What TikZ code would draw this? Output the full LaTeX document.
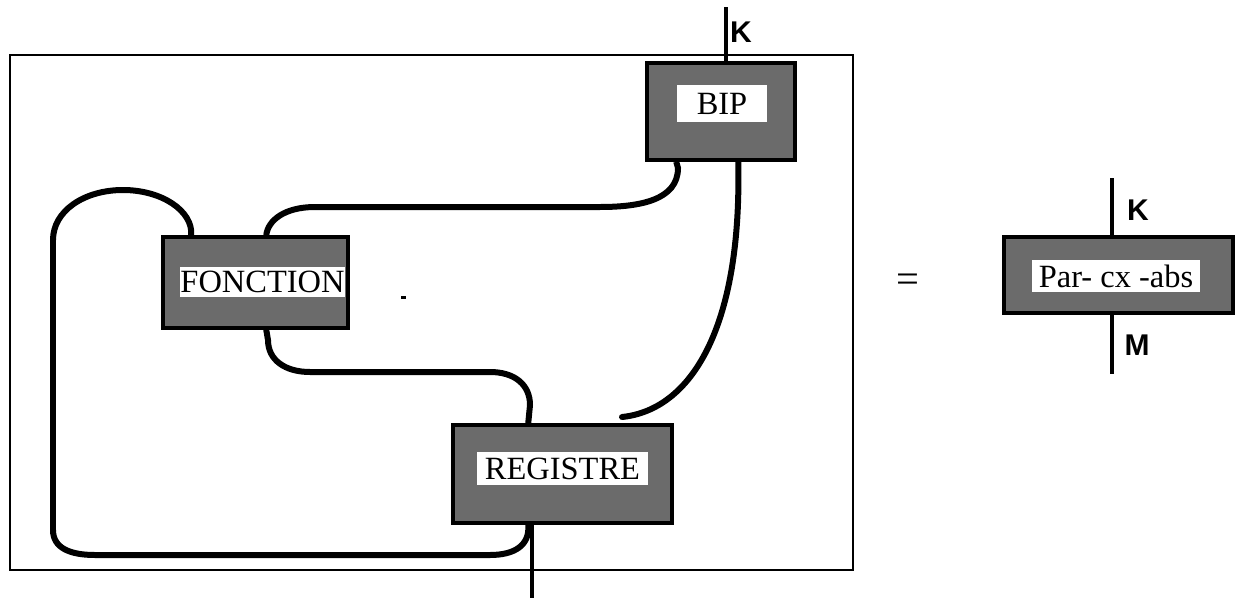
\documentclass[tikz,border=0pt]{standalone}
\usepackage{fontspec}
\setmainfont{Liberation Serif}
\newfontfamily\lblfont{Liberation Sans}
\usetikzlibrary{fit,calc}
\begin{document}
\begin{tikzpicture}[x=0.2835pt,y=-0.2835pt,
  box/.style={draw=black, line width=1pt, fill=black!58, inner sep=0pt},
  win/.style={fill=white, inner sep=0pt},
  txt/.style={inner sep=0pt, font=\fontsize{9.2}{10}\selectfont},
  wire/.style={line width=1.7pt},
  stem/.style={line width=1pt},
  lab/.style={font=\lblfont\bfseries\fontsize{8.5}{9}\selectfont, inner sep=0pt}]
\useasboundingbox (0,0) rectangle (1241,600);
% outer frame
\node[draw=black, line width=0.8pt, inner sep=0pt, fit={(10,55)(853,570)}] (frame) {};
% boxes
\node[box, fit={(647,63)(795,160)}] (bip) {};
\node[win, fit={(677,85)(767,122)}] (bipw) {};
\node[txt] (bipt) at (bipw.center) {BIP};
\node[box, fit={(163,237)(348,328)}] (fon) {};
\node[win, fit={(180,267)(345,297)}] (fonw) {};
\node[txt] (font) at (fonw.center) {FONCTION};
\node[box, fit={(453,425)(672,523)}] (reg) {};
\node[win, fit={(477,452)(648,485)}] (regw) {};
\node[txt] (regt) at (regw.center) {REGISTRE};
\node[box, fit={(1004,237)(1233,313)}] (pca) {};
\node[win, fit={(1032,260)(1200,292)}] (pcaw) {};
\node[txt] (pcat) at (pcaw.center) {Par- cx -abs};
% labels
\node[lab] (k1) at (741,32) {K};
\node[lab] (k2) at (1138,210) {K};
\node[lab] (m2) at (1137,345) {M};
\node[inner sep=0pt, font=\fontsize{11.5}{12}\selectfont] (eq) at (908,283) {=};
\fill (401,296) rectangle (406,299);
% stems
\coordinate (ktop) at (726,7);
\draw[stem] (ktop) -- (ktop |- bip.north);
\coordinate (mbot) at (532,598);
\draw[stem] (mbot |- reg.south) -- (mbot);
\coordinate (pk) at (1112,178);
\draw[stem] (pk) -- (pk |- pca.north);
\coordinate (pm) at (1112,374);
\draw[stem] (pm |- pca.south) -- (pm);
% attach points
\coordinate (bipL) at ($(bip.south west)+(31,0)$);
\coordinate (bipR) at ($(bip.south west)+(93,0)$);
\coordinate (fonTR) at ($(fon.north west)+(105,0)$);
\coordinate (fonTL) at ($(fon.north west)+(30,0)$);
\coordinate (fonB) at ($(fon.south west)+(105,0)$);
\coordinate (regT) at ($(reg.north west)+(77,0)$);
\coordinate (regB) at ($(reg.south west)+(77,0)$);
\coordinate (regfree) at (622,417);
% wires
\draw[wire] (bipL) -- (678,168) .. controls (678,200) and (640,207) .. (600,207)
  -- (315,207) .. controls (285,207) and (268,220) .. (fonTR);
\draw[wire, line cap=round] (bipR) .. controls (742,330) and (690,410) .. (regfree);
\draw[wire] (fonB) -- (268,340) .. controls (268,360) and (285,372) .. (310,372)
  -- (490,372) .. controls (515,372) and (530,385) .. (530,405) -- (regT);
\draw[wire] (fonTL) .. controls (193,211) and (162,190) .. (123,190)
  .. controls (84,190) and (53,211) .. (53,240) -- (53,530)
  .. controls (53,548) and (70,555) .. (95,555) -- (490,555)
  .. controls (515,555) and (530,545) .. (regB);
\end{tikzpicture}
\end{document}
